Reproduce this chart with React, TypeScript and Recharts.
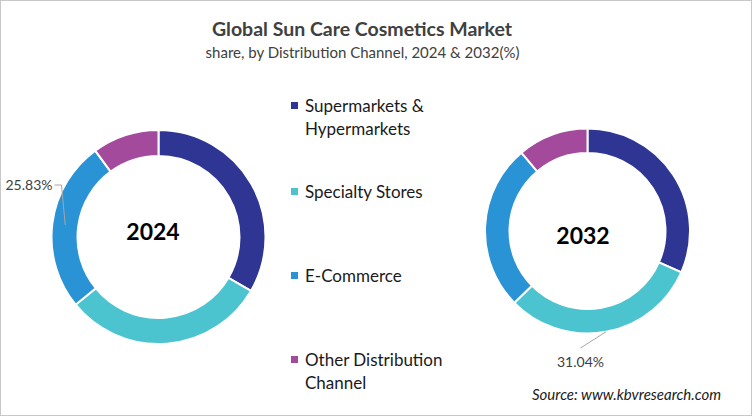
import { PieChart, Pie, Cell } from 'recharts';

const channels = [
  'Supermarkets & Hypermarkets',
  'Specialty Stores',
  'E-Commerce',
  'Other Distribution Channel',
];
const legendLines = [
  ['Supermarkets &', 'Hypermarkets'],
  ['Specialty Stores'],
  ['E-Commerce'],
  ['Other Distribution', 'Channel'],
];
const colors = ['#2E3593', '#4CC4D0', '#2A93D5', '#A44A9D'];

const share2024 = [33.4, 30.7, 25.83, 10.07];
const share2032 = [31.6, 31.04, 26.2, 11.16];

// which slice carries a value label in each year
const labelled2024 = 2;
const labelled2032 = 1;

const FONT = 'Lato, "Open Sans", sans-serif';
const RAD = Math.PI / 180;

function toRows(values: number[]) {
  return channels.map((name, i) => ({ name, value: values[i] }));
}

interface LabelProps {
  cx: number;
  cy: number;
  midAngle: number;
  innerRadius: number;
  outerRadius: number;
  index: number;
  value: number;
}

// 2024: label to the upper left, elbow line
function leftLabel(p: LabelProps) {
  if (p.index !== labelled2024) return null;
  const r = (p.innerRadius + p.outerRadius) / 2;
  const sx = p.cx + r * Math.cos(-p.midAngle * RAD);
  const sy = p.cy + r * Math.sin(-p.midAngle * RAD);
  const ex = p.cx - 97;
  const ey = p.cy - 52;
  return (
    <g>
      <polyline
        points={`${sx},${sy} ${ex},${ey} ${ex - 7},${ey}`}
        fill="none"
        stroke="#a6a6a6"
        strokeWidth={1}
      />
      <text x={ex - 9} y={ey + 5} textAnchor="end" fontSize={14} fill="#404040" fontFamily={FONT}>
        {`${p.value.toFixed(2)}%`}
      </text>
    </g>
  );
}

// 2032: label below the ring
function rightLabel(p: LabelProps) {
  if (p.index !== labelled2032) return null;
  const sx = p.cx + p.outerRadius * Math.cos(-p.midAngle * RAD);
  const sy = p.cy + p.outerRadius * Math.sin(-p.midAngle * RAD);
  const ex = p.cx - 7;
  const ey = p.cy + 117;
  return (
    <g>
      <line x1={sx} y1={sy} x2={ex} y2={ey} stroke="#a6a6a6" strokeWidth={1} />
      <text x={ex} y={ey + 19} textAnchor="middle" fontSize={14} fill="#404040" fontFamily={FONT}>
        {`${p.value.toFixed(2)}%`}
      </text>
    </g>
  );
}

const legendTops = [93, 179, 263, 347];

export default function App() {
  return (
    <div
      style={{
        position: 'relative',
        width: 752,
        height: 416,
        boxSizing: 'border-box',
        border: '1px solid #c8c8c8',
        background: '#fff',
        fontFamily: FONT,
        overflow: 'hidden',
      }}
    >
      <style>{'body{margin:0}'}</style>
      <div
        style={{
          position: 'absolute',
          left: 0,
          width: 722,
          top: 16,
          textAlign: 'center',
          fontSize: 19.5,
          fontWeight: 700,
          color: '#404040',
        }}
      >
        Global Sun Care Cosmetics Market
      </div>
      <div
        style={{
          position: 'absolute',
          left: 0,
          width: 723,
          top: 42,
          textAlign: 'center',
          fontSize: 15,
          color: '#404040',
        }}
      >
        share, by Distribution Channel, 2024 &amp; 2032(%)
      </div>

      <div style={{ position: 'absolute', left: -1, top: -1 }}>
        <PieChart width={752} height={416} margin={{ top: 0, right: 0, bottom: 0, left: 0 }}>
          <Pie
            data={toRows(share2024)}
            dataKey="value"
            nameKey="name"
            cx={158.5}
            cy={237}
            innerRadius={81}
            outerRadius={107}
            startAngle={90}
            endAngle={-270}
            stroke="#fff"
            strokeWidth={2}
            label={leftLabel}
            labelLine={false}
            isAnimationActive={false}
          >
            {channels.map((c, i) => (
              <Cell key={c} fill={colors[i]} />
            ))}
          </Pie>
          <Pie
            data={toRows(share2032)}
            dataKey="value"
            nameKey="name"
            cx={587.5}
            cy={231}
            innerRadius={78}
            outerRadius={102.5}
            startAngle={90}
            endAngle={-270}
            stroke="#fff"
            strokeWidth={2}
            label={rightLabel}
            labelLine={false}
            isAnimationActive={false}
          >
            {channels.map((c, i) => (
              <Cell key={c} fill={colors[i]} />
            ))}
          </Pie>
        </PieChart>
      </div>

      <div
        style={{
          position: 'absolute',
          left: 102,
          top: 216,
          width: 100,
          textAlign: 'center',
          fontSize: 23,
          fontWeight: 700,
          color: '#000',
        }}
      >
        2024
      </div>
      <div
        style={{
          position: 'absolute',
          left: 532,
          top: 220,
          width: 100,
          textAlign: 'center',
          fontSize: 23,
          fontWeight: 700,
          color: '#000',
        }}
      >
        2032
      </div>

      {legendLines.map((lines, i) => (
        <div
          key={channels[i]}
          style={{ position: 'absolute', left: 290, top: legendTops[i], display: 'flex' }}
        >
          <div
            style={{
              width: 7,
              height: 7,
              background: colors[i],
              marginTop: 8,
              marginRight: 7,
            }}
          />
          <div style={{ fontSize: 17, lineHeight: '23px', color: '#1a1a1a' }}>
            {lines.map((l) => (
              <div key={l}>{l}</div>
            ))}
          </div>
        </div>
      ))}

      <div
        style={{
          position: 'absolute',
          left: 531,
          top: 384,
          fontSize: 15,
          fontStyle: 'italic',
          color: '#1a1a1a',
        }}
      >
        Source: www.kbvresearch.com
      </div>
    </div>
  );
}
